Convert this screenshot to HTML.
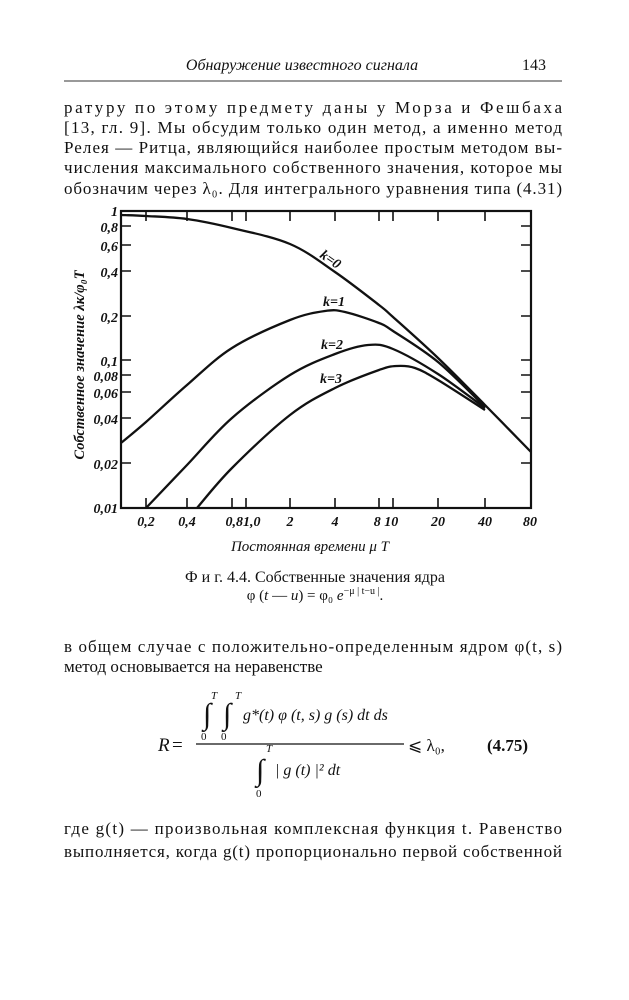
<!DOCTYPE html>
<html><head><meta charset="utf-8"><style>
body{margin:0;background:#fff;}
svg{display:block}
text{font-family:"Liberation Serif",serif;fill:#111}
.b{font-size:17px}
.ax{font-family:"Liberation Sans",sans-serif;font-style:italic;font-weight:bold;font-size:14px}
</style></head><body>
<svg id="s" width="629" height="1000" viewBox="0 0 629 1000" xmlns="http://www.w3.org/2000/svg">
<text x="302" y="70" text-anchor="middle" font-style="italic" font-size="16">Обнаружение известного сигнала</text>
<text x="522" y="70" font-size="16">143</text>
<line x1="64" y1="81" x2="562" y2="81" stroke="#333" stroke-width="1"/>
<g class="b">
<text x="64" y="113" textLength="498" lengthAdjust="spacing">ратуру по этому предмету даны у Морза и Фешбаха</text>
<text x="64" y="133" textLength="498" lengthAdjust="spacing">[13, гл. 9]. Мы обсудим только один метод, а именно метод</text>
<text x="64" y="153" textLength="498" lengthAdjust="spacing">Релея — Ритца, являющийся наиболее простым методом вы-</text>
<text x="64" y="173" textLength="498" lengthAdjust="spacing">числения максимального собственного значения, которое мы</text>
<text x="64" y="194" textLength="498" lengthAdjust="spacing">обозначим через λ₀. Для интегрального уравнения типа (4.31)</text>
</g>
<g stroke="#111" fill="none">
<rect x="121" y="211" width="410" height="297" stroke-width="2.2"/>
<g stroke-width="1.6">
<path d="M121,226h10M121,245h10M121,271h10M121,316h10M121,360h10M121,375h10M121,392h10M121,418h10M121,463h10"/>
<path d="M531,226h-10M531,245h-10M531,271h-10M531,316h-10M531,360h-10M531,375h-10M531,392h-10M531,418h-10M531,463h-10"/>
<path d="M146,211v10M187,211v10M232,211v10M246,211v10M290,211v10M335,211v10M379,211v10M393,211v10M438,211v10M485,211v10"/>
<path d="M146,508v-10M187,508v-10M232,508v-10M246,508v-10M290,508v-10M335,508v-10M379,508v-10M393,508v-10M438,508v-10M485,508v-10"/>
</g>
<g stroke-width="2.3" stroke-linejoin="round" class="cv">
<polyline points="121,215 146,216 187,219 232,228 290,244 335,272 379,305 393,317 438,358 485,405 531,452"/>
<polyline points="121,443 146,422 187,385 232,348 290,320 325,311 345,312 379,323 393,331 438,362 485,407"/>
<polyline points="146,508 187,465 232,418 290,375 335,354 368,345 393,349 438,374 485,408"/>
<polyline points="197,508 232,468 290,415 335,388 379,370 397,366 415,368 438,380 485,410"/>
</g>
</g>
<g class="ax" text-anchor="end">
<text x="118" y="216">1</text><text x="118" y="232">0,8</text><text x="118" y="251">0,6</text>
<text x="118" y="277">0,4</text><text x="118" y="322">0,2</text><text x="118" y="366">0,1</text>
<text x="118" y="381">0,08</text><text x="118" y="398">0,06</text><text x="118" y="424">0,04</text>
<text x="118" y="469">0,02</text><text x="118" y="513">0,01</text>
</g>
<g class="ax" text-anchor="middle">
<text x="146" y="526">0,2</text><text x="187" y="526">0,4</text><text x="243" y="526">0,81,0</text>
<text x="290" y="526">2</text><text x="335" y="526">4</text><text x="386" y="526">8 10</text>
<text x="438" y="526">20</text><text x="485" y="526">40</text><text x="530" y="526">80</text>
<text x="310" y="551" font-size="15" font-weight="normal">Постоянная времени μ T</text>
<text x="0" y="0" font-size="14.5" text-anchor="middle" transform="translate(84,365) rotate(-90)">Собственное значение λк/φ₀T</text>
<text x="0" y="0" transform="translate(328,263) rotate(35)">k=0</text>
<text x="334" y="306">k=1</text><text x="332" y="349">k=2</text><text x="331" y="383">k=3</text>
</g>
<text x="315" y="582" text-anchor="middle" font-size="16">Ф и г.  4.4. Собственные значения ядра</text>
<text x="315" y="600" text-anchor="middle" font-size="15">φ (<tspan font-style="italic">t</tspan> — <tspan font-style="italic">u</tspan>) = φ₀ <tspan font-style="italic">e</tspan><tspan font-size="10" dy="-6">−μ | t−u |</tspan><tspan dy="6">.</tspan></text>
<g class="b">
<text x="64" y="652" textLength="498" lengthAdjust="spacing">в общем случае с положительно-определенным ядром φ(t, s)</text>
<text x="64" y="672">метод основывается на неравенстве</text>
</g>
<g font-size="16">
<text x="158" y="751" font-style="italic" font-size="19">R</text>
<text x="172" y="751" font-size="19">=</text>
<line x1="196" y1="744" x2="404" y2="744" stroke="#111" stroke-width="1.2"/>
<text x="203" y="724" font-size="30">∫</text><text x="223" y="724" font-size="30">∫</text>
<text x="211" y="699" font-size="11" font-style="italic">T</text><text x="235" y="699" font-size="11" font-style="italic">T</text>
<text x="201" y="740" font-size="11">0</text><text x="221" y="740" font-size="11">0</text>
<text x="243" y="720" font-style="italic">g*(t) φ (t, s) g (s) dt ds</text>
<text x="256" y="780" font-size="30">∫</text>
<text x="266" y="752" font-size="11" font-style="italic">T</text>
<text x="256" y="797" font-size="11">0</text>
<text x="275" y="775" font-style="italic">| g (t) |² dt</text>
<text x="408" y="751" font-size="17">⩽ λ₀,</text>
<text x="487" y="751" font-weight="bold" font-size="17">(4.75)</text>
</g>
<g class="b">
<text x="64" y="834" textLength="498" lengthAdjust="spacing">где g(t) — произвольная комплексная функция t. Равенство</text>
<text x="64" y="857" textLength="498" lengthAdjust="spacing">выполняется, когда g(t) пропорционально первой собственной</text>
</g>
</svg>
<script>
document.querySelectorAll('.cv polyline').forEach(function(pl){
 var p=pl.getAttribute('points').trim().split(/\s+/).map(function(s){return s.split(',').map(Number)});
 var d='M'+p[0][0]+','+p[0][1];
 for(var i=0;i<p.length-1;i++){
  var p0=p[i-1]||p[i],p1=p[i],p2=p[i+1],p3=p[i+2]||p2;
  var c1=[p1[0]+(p2[0]-p0[0])/6,p1[1]+(p2[1]-p0[1])/6];
  var c2=[p2[0]-(p3[0]-p1[0])/6,p2[1]-(p3[1]-p1[1])/6];
  d+='C'+c1[0]+','+c1[1]+' '+c2[0]+','+c2[1]+' '+p2[0]+','+p2[1];
 }
 var path=document.createElementNS('http://www.w3.org/2000/svg','path');
 path.setAttribute('d',d);
 pl.parentNode.replaceChild(path,pl);
});
</script>
</body></html>
